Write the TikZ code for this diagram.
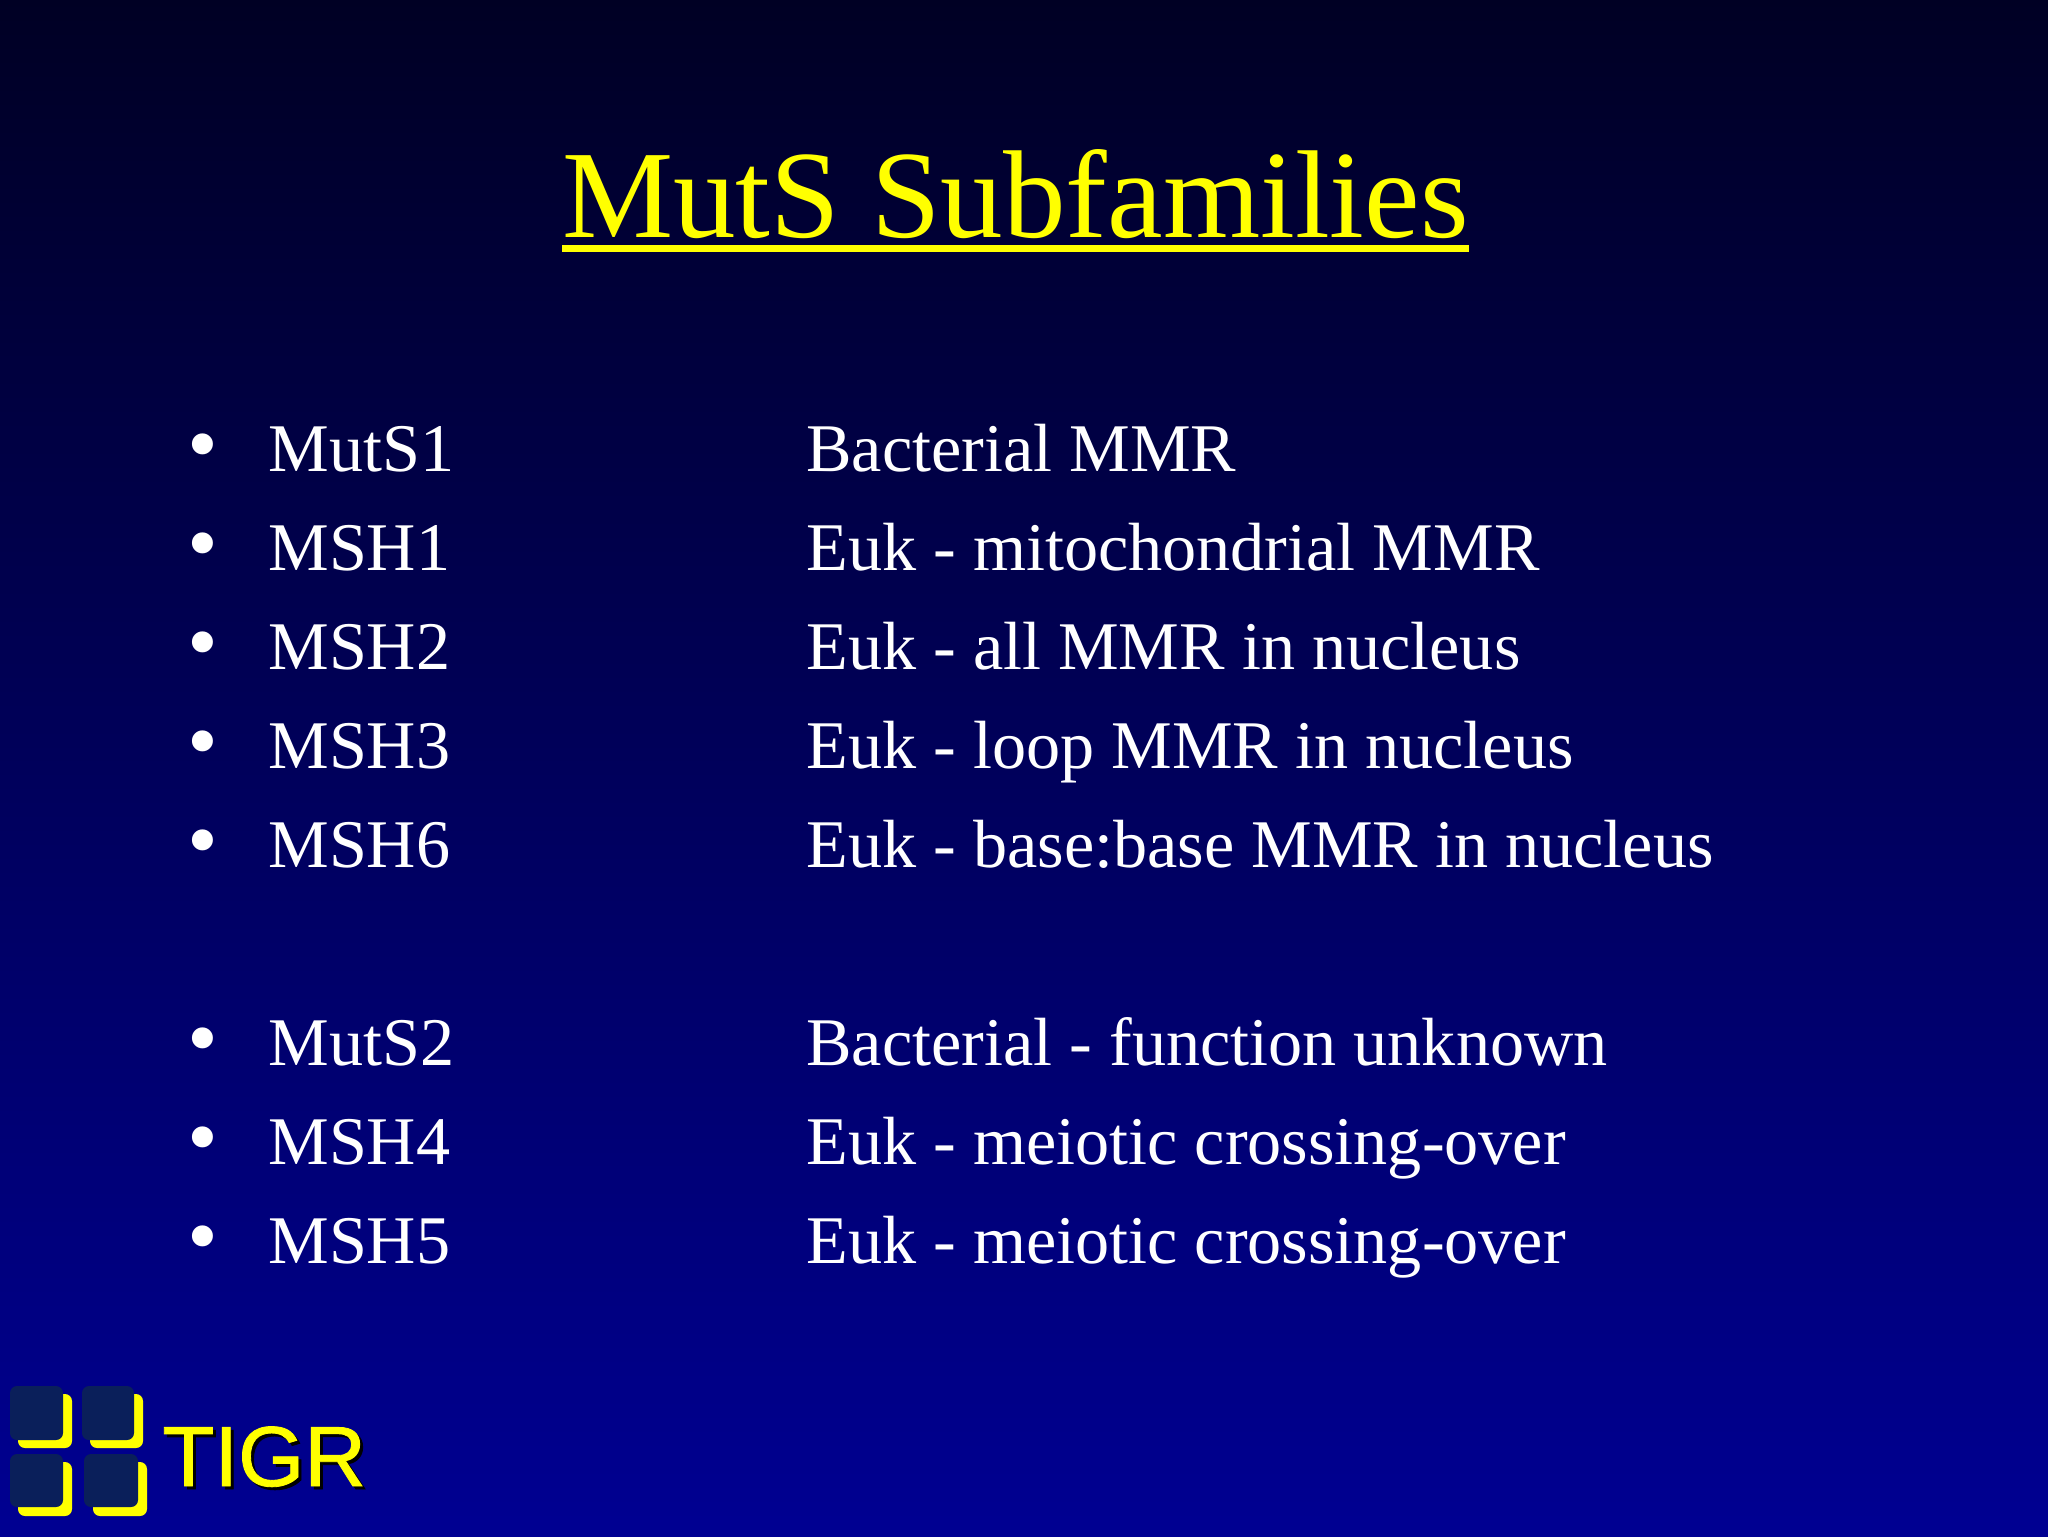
\documentclass[tikz,border=0pt]{standalone}
\usepackage{fontspec}
\setmainfont{Liberation Serif}
\newfontfamily\logofont[RawFeature={embolden=1}]{Liberation Sans}
\definecolor{bgtop}{RGB}{0,0,36}
\definecolor{bgbot}{RGB}{0,0,146}
\definecolor{titleyellow}{RGB}{255,255,0}
\definecolor{logodark}{RGB}{10,31,90}
\tikzset{
  x=0.5pt,y=-0.5pt,
  bodytext/.style={anchor=base west,inner sep=0pt,text=white,font=\fontsize{34.1}{40}\selectfont},
  bulletmark/.style={anchor=base,inner sep=0pt,text=white,font=\fontsize{44}{50}\selectfont},
  titletext/.style={anchor=base,inner sep=0pt,text=titleyellow,font=\fontsize{62.5}{70}\selectfont},
  logotext/.style={anchor=base west,inner sep=0pt,font=\logofont\fontsize{42.6}{48}\selectfont},
  logoback/.style={fill=titleyellow,rounded corners=3.5pt},
  logofront/.style={fill=logodark,rounded corners=3.5pt},
}
\begin{document}
\begin{tikzpicture}
\useasboundingbox (0,0) rectangle (2048,1536);
\shade[top color=bgtop,bottom color=bgbot,shading angle=0] (0,0) rectangle (2048,1536);
\node[titletext] (title) at (1015.5,237) {MutS Subfamilies};
\fill[titleyellow] (562,244.5) rectangle (1469,251.5);
\foreach \nm/\yy/\a/\b in {a/471/MutS1/Bacterial MMR,
  b/570/MSH1/Euk - mitochondrial MMR,
  c/669/MSH2/Euk - all MMR in nucleus,
  d/768/MSH3/Euk - loop MMR in nucleus,
  e/867/MSH6/Euk - base:base MMR in nucleus,
  f/1065/MutS2/Bacterial - function unknown,
  g/1164/MSH4/Euk - meiotic crossing-over,
  h/1263/MSH5/Euk - meiotic crossing-over}{
  \node[bulletmark] (bul\nm) at (203,\yy+2) {•};
  \node[bodytext] (nam\nm) at (268,\yy) {\a};
  \node[bodytext] (des\nm) at (806,\yy) {\b};
}
\fill[logoback] (18,1394) rectangle (72,1448);
\fill[logoback] (90,1394) rectangle (143,1448);
\fill[logoback] (18,1462) rectangle (72,1516);
\fill[logoback] (93,1462) rectangle (147,1516);
\fill[logofront] (10,1386) rectangle (63,1440);
\fill[logofront] (82,1386) rectangle (134,1440);
\fill[logofront] (10,1454) rectangle (63,1507);
\fill[logofront] (84,1454) rectangle (138,1507);
\node[logotext,text=black] (logoshadow) at (165,1489) {TIGR};
\node[logotext,text=titleyellow] (logo) at (162,1486) {TIGR};
\end{tikzpicture}
\end{document}
